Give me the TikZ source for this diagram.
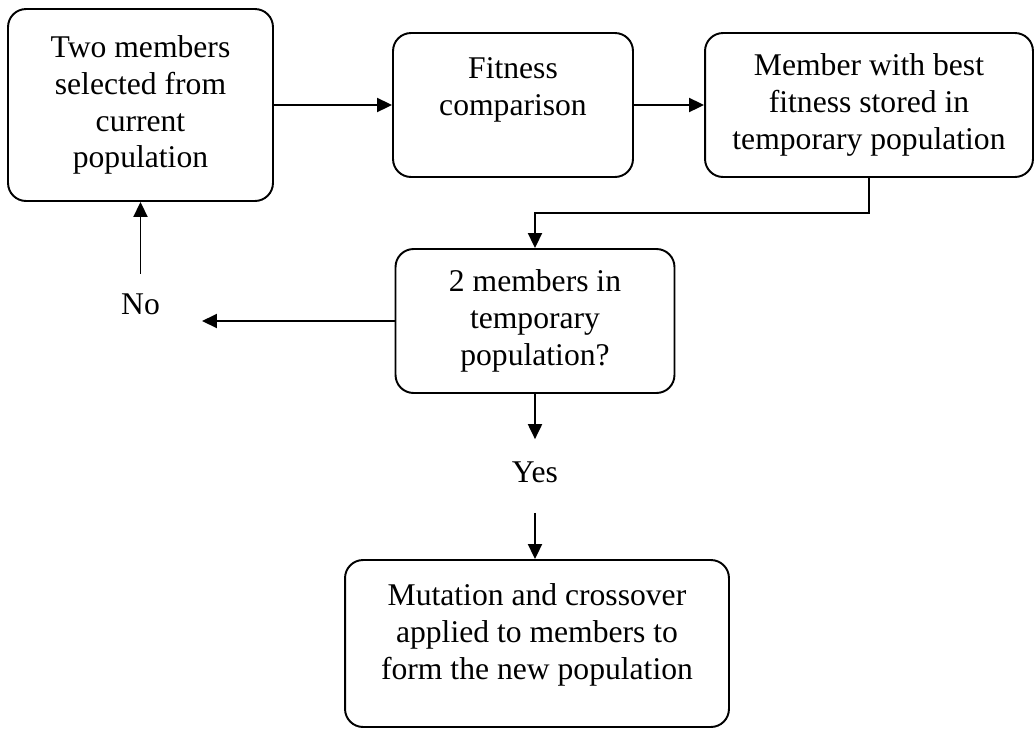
\documentclass[tikz,border=0pt]{standalone}
\usepackage{fontspec}
\setmainfont{Liberation Serif}
\usetikzlibrary{arrows.meta,positioning}
\tikzset{stage/.style={draw=black,line width=1.1pt,rounded corners=0.36cm,align=center,inner sep=0pt},tag/.style={align=center,inner sep=0pt},flow/.style={-{Triangle[length=3mm,width=2.8mm]},line width=1.1pt,draw=black}}

\begin{document}
\begin{tikzpicture}[x=0.02cm,y=-0.02cm,font=\fontsize{18}{21}\selectfont]
\useasboundingbox(0,0)rectangle(1035,728);
\node[stage,minimum width=5.3cm,minimum height=3.84cm](sel)at(140.5,105){Two members\\selected from\\current\\population};
\node[stage,minimum width=4.8cm,minimum height=2.88cm](fit)at(513,105){Fitness\\comparison\\\mbox{}};
\node[stage,minimum width=6.56cm,minimum height=2.88cm](best)at(869,105){Member with best\\fitness stored in\\temporary population};
\node[stage,minimum width=5.58cm,minimum height=2.88cm](chk)at(535,321){2 members in\\temporary\\population?};
\node[tag](no)at(140.5,304.5){No};\node[tag](yes)at(535,472){Yes};\coordinate(nox)at(202,321);
\node[stage,minimum width=7.68cm,minimum height=3.34cm](mut)at(537,643.5){Mutation and crossover\\applied to members to\\form the new population\\[-7pt]\mbox{}};
\draw[flow](sel.east)--(fit.west);\draw[flow](fit.east)--(best.west);
\draw[flow](best.south)--++(0,35)-|(chk.north);
\draw[flow](chk.west)--(nox);\draw[flow]([yshift=4mm]no.north)--(sel.south);
\draw[flow](chk.south)--([yshift=4.4mm]yes.north);\draw[flow]([yshift=-6mm]yes.south)--(yes.south|-mut.north);
\end{tikzpicture}
\end{document}
